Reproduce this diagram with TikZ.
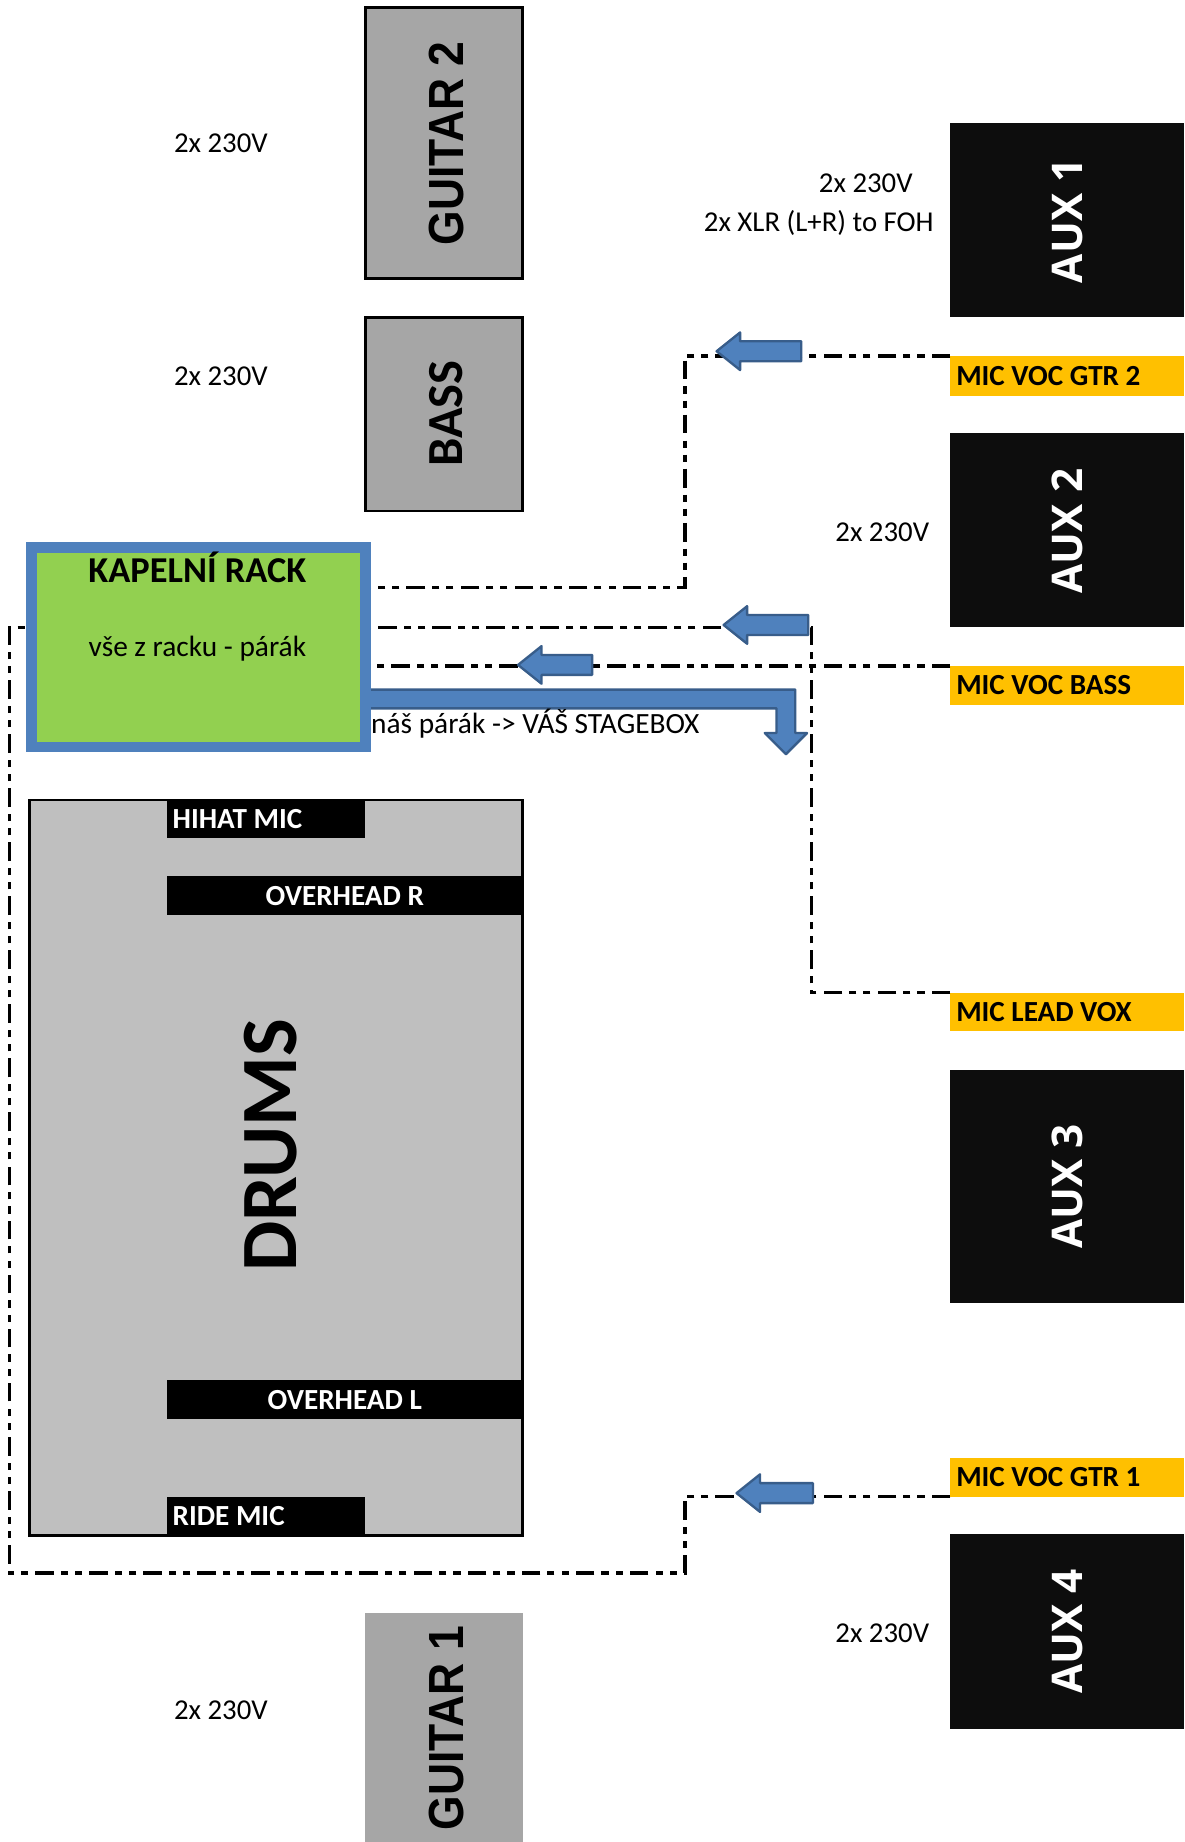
\documentclass[tikz,border=0pt]{standalone}
\usepackage{fontspec}
\setmainfont{Carlito}
\newfontfamily\arialf{Liberation Sans}
\newfontfamily\opensf{Open Sans}
\definecolor{ampgray}{HTML}{A6A6A6}
\definecolor{drumgray}{HTML}{BFBFBF}
\definecolor{auxblack}{HTML}{0D0D0D}
\definecolor{micyellow}{HTML}{FFC000}
\definecolor{rackgreen}{HTML}{92D050}
\definecolor{arrowblue}{HTML}{4F81BD}
\definecolor{arrowedge}{HTML}{385D8A}
\newcommand\myfs[1]{\fontsize{#1}{#1}\selectfont}
\begin{document}
\begin{tikzpicture}[x=1pt,y=-1pt,
  every node/.style={inner sep=0pt,outer sep=0pt},
  amp/.style={fill=ampgray,draw=black,line width=2.5pt,anchor=north west},
  ampnb/.style={fill=ampgray,anchor=north west},
  aux/.style={fill=auxblack,anchor=north west,minimum width=199pt},
  mic/.style={fill=micyellow,anchor=north west,minimum height=34pt,minimum width=199pt},
  mictext/.style={anchor=west,xshift=5pt,font=\myfs{24.8}\bfseries},
  tag/.style={fill=black,anchor=north west,minimum height=33pt},
  tagtext/.style={text=white,font=\myfs{24.8}\bfseries},
  amptext/.style={rotate=90,font=\arialf\myfs{42}\bfseries},
  auxtext/.style={rotate=90,text=white,font=\opensf\myfs{36}\bfseries},
  plain/.style={anchor=base,font=\myfs{24.5}},
  sig/.style={line width=2.8pt,dash pattern=on 16pt off 6pt on 6pt off 6pt on 6pt off 6pt},
  blockarrow/.style={fill=arrowblue,draw=arrowedge,line width=2pt,line join=round},
  pics/larrow/.style={code={\draw[blockarrow] (0,0) -- (20,-16) -- (20,-8.5) -- (#1,-8.5) -- (#1,8.5) -- (20,8.5) -- (20,16) -- cycle;}}
]
\useasboundingbox[fill=white] (0,0) rectangle (1008,1568);

% amps
\node[amp,minimum width=134pt,minimum height=231pt] (gtr2) at (311,6) {};
\node[amp,minimum width=134pt,minimum height=165pt] (bass) at (311,270) {};
\node[ampnb,minimum width=134pt,minimum height=195pt] (gtr1) at (311,1373) {};
\node[amptext] (gtr2t) at (380,122) {\scalebox{0.9}[1]{GUITAR 2}};
\node[rotate=90,font=\myfs{43}\bfseries] (basst) at (380,352) {BASS};
\node[amptext] (gtr1t) at (380,1471) {\scalebox{0.9}[1]{GUITAR 1}};

% aux
\node[aux,minimum height=165pt] (aux1) at (809,105) {};
\node[aux,minimum height=165pt] (aux2) at (809,369) {};
\node[aux,minimum height=198pt] (aux3) at (809,911) {};
\node[aux,minimum height=166pt] (aux4) at (809,1306) {};
\node[auxtext] (aux1t) at (909,188) {AUX 1};
\node[auxtext] (aux2t) at (909,452) {AUX 2};
\node[auxtext] (aux3t) at (909,1010) {AUX 3};
\node[auxtext] (aux4t) at (909,1389) {AUX 4};

% mic labels
\node[mic] (micgtr2) at (809,303) {};
\node[mic,minimum height=33pt] (micbass) at (809,567) {};
\node[mic,minimum height=33pt] (miclead) at (809,845) {};
\node[mic,minimum height=33pt] (micgtr1) at (809,1241) {};
\node[mictext] (micgtr2t) at (micgtr2.west) {MIC VOC GTR 2};
\node[mictext] (micbasst) at (micbass.west) {MIC VOC BASS};
\node[mictext] (micleadt) at (miclead.west) {MIC LEAD VOX};
\node[mictext] (micgtr1t) at (micgtr1.west) {MIC VOC GTR 1};

% drums
\node[fill=drumgray,draw=black,line width=2.5pt,anchor=north west,minimum width=420pt,minimum height=626pt] (drums) at (25,681) {};
\node[rotate=90,font=\myfs{68}\bfseries] (drumst) at (230,975) {DRUMS};
\node[tag,minimum width=169pt,minimum height=32pt] (hihat) at (142,681) {};
\node[tag,minimum width=303pt] (ohr) at (142,746) {};
\node[tag,minimum width=303pt] (ohl) at (142,1175) {};
\node[tag,minimum width=169pt] (ride) at (142,1274) {};
\node[tagtext,anchor=west,xshift=5pt] (hihatt) at (hihat.west) {HIHAT MIC};
\node[tagtext] (ohrt) at (ohr.center) {OVERHEAD R};
\node[tagtext] (ohlt) at (ohl.center) {OVERHEAD L};
\node[tagtext,anchor=west,xshift=5pt] (ridet) at (ride.west) {RIDE MIC};

% rack corners (for connectors)
\coordinate (rackW) at (27,466);
\coordinate (rackE) at (311,636);

% signal lines
\coordinate (a1) at (583,303);
\coordinate (a2) at (583,500);
\draw[sig] (micgtr2.north west) -- (a1) -- (a2) -- (rackE |- a2);
\coordinate (b1) at (691,845);
\coordinate (b2) at (691,534);
\draw[sig] (miclead.north west) -- (b1) -- (b2) -- (rackE |- b2);
\coordinate (c1) at (700,567);
\draw[sig] (micbass.north west) -- (rackE |- c1);
\coordinate (d1) at (583,1274);
\coordinate (d2) at (583,1339);
\coordinate (d3) at (8,1339);
\coordinate (d4) at (8,534);
\draw[sig] (micgtr1.south west) -- (d1) -- (d2) -- (d3) -- (d4) -- (rackW |- d4);

% block arrows
\pic (arr1) at (610,299) {larrow=72};
\pic (arr2) at (616,532) {larrow=72};
\pic (arr3) at (441,566) {larrow=63};
\pic (arr4) at (627,1271) {larrow=65};

% bent arrow to stagebox
\draw[blockarrow] (300,587) -- (677,587) -- (677,624) -- (687,624) -- (669,642) -- (651,624) -- (661,624) -- (661,603) -- (300,603) -- cycle;

% rack
\node[fill=rackgreen,draw=arrowblue,line width=9pt,anchor=north west,minimum width=284pt,minimum height=170pt] (rack) at (27,466) {};
\node[anchor=base,font=\myfs{31}\bfseries] (rackt) at (168,496) {KAPELNÍ RACK};
\node[anchor=base,font=\myfs{25}] (racks) at (168,559) {vše z racku - párák};

% texts
\node[anchor=base west,font=\myfs{25}] (stage) at (316,624) {náš párák -> VÁŠ STAGEBOX};
\node[plain] (p1) at (188,130) {2x 230V};
\node[plain] (p2) at (188,328) {2x 230V};
\node[plain] (p3) at (737,164) {2x 230V};
\node[plain] (p4) at (697,197) {2x XLR (L+R) to FOH};
\node[plain] (p5) at (751,461) {2x 230V};
\node[plain] (p6) at (751,1398) {2x 230V};
\node[plain] (p7) at (188,1464) {2x 230V};
\end{tikzpicture}
\end{document}
